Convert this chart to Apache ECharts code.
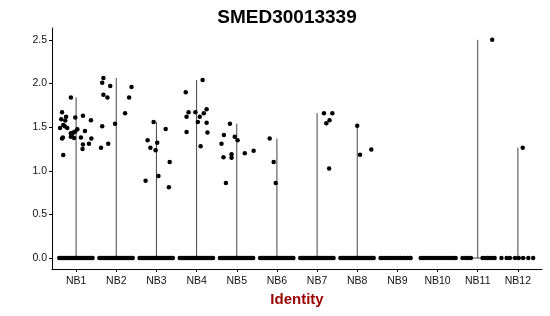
<!DOCTYPE html>
<html>
<head>
<meta charset="utf-8">
<script src="https://cdn.jsdelivr.net/npm/echarts@6/dist/echarts.min.js"></script>
<style>html,body{margin:0;padding:0;background:#fff}#c{width:550px;height:316px}</style>
</head>
<body>
<div id="c"></div>
<script>
const categories = ['NB1','NB2','NB3','NB4','NB5','NB6','NB7','NB8','NB9','NB10','NB11','NB12'];
const yTicks = [0, 0.5, 1, 1.5, 2, 2.5];

// non-zero expression values and their horizontal jitter (category units)
const valsNB1 = [1.84,1.67,1.59,1.575,1.62,1.61,1.63,1.58,1.49,1.525,1.51,1.49,1.38,1.37,1.43,1.42,1.44,1.45,1.475,1.39,1.376,1.38,1.456,1.30,1.25,1.31,1.37,1.18];
const jitNB1  = [-0.13,-0.35,-0.37,-0.27,-0.25,-0.02,0.17,0.37,-0.40,-0.32,-0.28,-0.22,-0.33,-0.35,-0.13,-0.10,-0.07,-0.02,0.03,-0.13,-0.05,0.12,0.22,0.17,0.16,0.32,0.38,-0.32];
const valsNB2 = [2.064,2.01,1.97,1.96,1.87,1.84,1.84,1.66,1.54,1.51,1.31,1.265];
const jitNB2  = [-0.32,-0.35,-0.15,0.38,-0.32,-0.22,0.32,0.22,-0.03,-0.35,-0.20,-0.38];
const valsNB3 = [1.56,1.48,1.35,1.32,1.265,1.235,1.10,0.886,0.94,0.81];
const jitNB3  = [-0.07,0.23,-0.22,0.02,-0.15,-0.02,0.33,-0.27,0.05,0.31];
const valsNB4 = [2.04,1.90,1.67,1.67,1.62,1.62,1.705,1.66,1.56,1.55,1.445,1.44,1.28];
const jitNB4  = [0.15,-0.27,-0.20,-0.03,-0.25,0.08,0.25,0.18,0.03,0.25,-0.25,0.27,0.10];
const valsNB5 = [1.54,1.41,1.39,1.35,1.31,1.19,1.15,1.155,1.20,1.23,0.86];
const jitNB5  = [-0.17,-0.32,-0.05,0.02,-0.38,-0.13,-0.13,-0.33,0.20,0.42,-0.27];
const valsNB6 = [1.37,1.10,0.86];
const jitNB6  = [-0.18,-0.08,-0.03];
const valsNB7 = [1.66,1.66,1.58,1.545,1.025];
const jitNB7  = [0.17,0.38,0.31,0.23,0.30];
const valsNB8 = [1.517,1.185,1.245];
const jitNB8  = [0.00,0.07,0.35];
const valsNB9 = [];
const jitNB9  = [];
const valsNB10 = [];
const jitNB10  = [];
const valsNB11 = [2.50];
const jitNB11  = [0.36];
const valsNB12 = [1.265];
const jitNB12  = [0.12];

// horizontal jitter of the cells with zero expression
const zeroJitDense = [-0.42,-0.38,-0.34,-0.30,-0.26,-0.22,-0.18,-0.14,-0.10,-0.06,-0.02,0.02,0.06,0.10,0.14,0.18,0.22,0.26,0.30,0.34,0.38,0.41];
const zeroJitNB9  = [-0.42,-0.37,-0.31,-0.26,-0.20,-0.14,-0.09,-0.03,0.03,0.08,0.14,0.19,0.25,0.30,0.33];
const zeroJitNB10 = [-0.42,-0.36,-0.30,-0.23,-0.17,-0.10,-0.04,0.03,0.09,0.16,0.22,0.29,0.35,0.41,0.45];
const zeroJitNB11 = [-0.38,-0.30,-0.24,-0.17,0.12,0.18,0.24,0.30,0.36,0.42];
const zeroJitNB12 = [-0.41,-0.28,-0.20,-0.07,0.02,0.13,0.26,0.38];

const valsList = [valsNB1,valsNB2,valsNB3,valsNB4,valsNB5,valsNB6,valsNB7,valsNB8,valsNB9,valsNB10,valsNB11,valsNB12];
const jitList  = [jitNB1,jitNB2,jitNB3,jitNB4,jitNB5,jitNB6,jitNB7,jitNB8,jitNB9,jitNB10,jitNB11,jitNB12];
const zeroList = [zeroJitDense,zeroJitDense,zeroJitDense,zeroJitDense,zeroJitDense,zeroJitDense,zeroJitDense,zeroJitDense,zeroJitNB9,zeroJitNB10,zeroJitNB11,zeroJitNB12];

const points = [];
const violins = [];
categories.forEach((c, i) => {
  const pos = i + 1;
  zeroList[i].forEach(j => points.push([pos + j, 0]));
  valsList[i].forEach((v, k) => points.push([pos + jitList[i][k], v]));
  violins.push([pos, Math.max(0, ...valsList[i])]);
});

const chart = echarts.init(document.getElementById('c'));
const font = 'Liberation Sans, Arial, sans-serif';
chart.setOption({
  animation: false,
  backgroundColor: '#fff',
  title: {
    text: 'SMED30013339', left: 282, top: 3, textAlign: 'center',
    textStyle: {fontFamily: font, fontSize: 19, fontWeight: 'bold', color: '#000'}
  },
  grid: {left: 52, right: 8, top: 28, bottom: 47, containLabel: false},
  xAxis: {
    type: 'value', min: 0.4, max: 12.6,
    name: 'Identity', nameLocation: 'middle', nameGap: 21,
    nameTextStyle: {fontFamily: font, fontSize: 15, fontWeight: 'bold', color: '#990000'},
    axisLine: {show: true, onZero: false, lineStyle: {color: '#000', width: 1}},
    axisTick: {show: true, length: 3, customValues: categories.map((c, i) => i + 1), lineStyle: {color: '#000'}},
    axisLabel: {customValues: categories.map((c, i) => i + 1), margin: 7, fontFamily: font, fontSize: 10.5, color: '#111',
      formatter: v => categories[Math.round(v) - 1] || ''},
    splitLine: {show: false}
  },
  yAxis: {
    type: 'value', min: -0.1255, max: 2.636,
    axisLine: {show: true, onZero: false, lineStyle: {color: '#000', width: 1}},
    axisTick: {show: true, length: 3, customValues: yTicks, lineStyle: {color: '#000'}},
    axisLabel: {customValues: yTicks, margin: 5, fontFamily: font, fontSize: 10.5, color: '#111',
      formatter: v => v.toFixed(1)},
    splitLine: {show: false}
  },
  series: [
    {
      type: 'custom',
      data: violins,
      z: 1,
      renderItem: (params, api) => {
        const x = api.value(0), m = api.value(1);
        const b = api.coord([x, 0]);
        const t = api.coord([x, m]);
        const l = api.coord([x - 0.2, 0]);
        const r = api.coord([x + 0.2, 0]);
        return {
          type: 'group',
          children: [
            {type: 'line', shape: {x1: b[0], y1: b[1], x2: t[0], y2: t[1]}, style: {stroke: '#444', lineWidth: 1}},
            {type: 'line', shape: {x1: l[0], y1: l[1], x2: r[0], y2: r[1]}, style: {stroke: '#444', lineWidth: 1}}
          ]
        };
      }
    },
    {
      type: 'scatter',
      data: points,
      z: 2,
      symbolSize: 4.5,
      itemStyle: {color: '#000', opacity: 1},
      emphasis: {disabled: true}
    }
  ]
});
</script>
</body>
</html>
